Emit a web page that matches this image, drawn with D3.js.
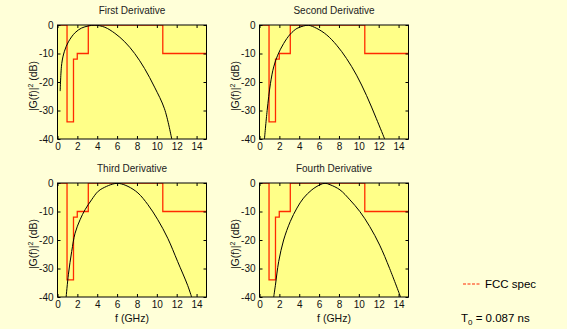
<!DOCTYPE html>
<html>
<head>
<meta charset="utf-8">
<script src="https://cdn.jsdelivr.net/npm/d3@7"></script>
<style>
  body { margin: 0; background: #ffffd8; }
  svg { display: block; font-family: "Liberation Sans", Arial, sans-serif; }
</style>
</head>
<body>
<svg id="chart"></svg>
<script>
const titles = ["First Derivative", "Second Derivative", "Third Derivative", "Fourth Derivative"];
const xTicks = [0, 2, 4, 6, 8, 10, 12, 14];
const yTicks = [0, -10, -20, -30, -40];

// FCC indoor mask, relative dB (step after each edge)
const fccFreq  = [0, 0.96, 1.61, 1.99, 3.1, 10.6, 15];
const fccLevel = [0, -34, -12, -10, 0, -10, -10];

// |G(f)|^2
const d1Freq = [0.27, 0.43, 0.7, 1.1, 1.77, 2.43, 3.1, 3.77, 4.77, 5.77, 6.77, 7.77, 8.77, 9.77, 10.77, 11.5];
const d1Db   = [-23.2, -13.5, -9.2, -5.9, -2.7, -1.06, -0.35, -0.05, -0.8, -2.9, -5.9, -10, -15.3, -21.8, -29.4, -40];
const d2Freq = [0.5, 0.77, 1.1, 1.43, 1.83, 2.43, 3.1, 3.77, 4.43, 4.93, 5.77, 6.77, 7.77, 8.77, 9.77, 10.77, 11.77, 12.6];
const d2Db   = [-40, -30, -20.6, -14.7, -10.6, -6.5, -3.2, -1.2, -0.35, -0.1, -1.2, -3.5, -7.1, -11.8, -17.6, -24.7, -32.9, -40];
const d3Freq = [0.87, 1.1, 1.43, 1.77, 2.27, 2.77, 3.43, 4.1, 4.93, 5.77, 6.27, 7.1, 8.1, 9.1, 10.1, 11.1, 12.1, 13.1, 13.5];
const d3Db   = [-40, -32, -24, -17.6, -12.9, -9.4, -5.9, -2.9, -1.2, -0.2, -0.2, -1.2, -3.5, -7.6, -12.9, -19.4, -27.6, -35.9, -40];
const d4Freq = [1.43, 1.6, 1.93, 2.43, 3.1, 3.77, 4.43, 5.27, 6.1, 6.6, 7.1, 8.1, 9.1, 10.1, 11.1, 12.1, 13.1, 14.2];
const d4Db   = [-40, -35.9, -27.6, -20, -13.5, -8.8, -5.3, -2.4, -0.6, -0.1, -0.6, -2.4, -5.9, -10, -15.3, -21.8, -30, -40];

const curves = [[d1Freq, d1Db], [d2Freq, d2Db], [d3Freq, d3Db], [d4Freq, d4Db]];

const width = 567, height = 329;
const svg = d3.select("#chart").attr("width", width).attr("height", height);

svg.append("rect").attr("width", width).attr("height", height).attr("fill", "#ffffd8");

const pw = 149, ph = 114;
const lefts = [57.5, 259.5], tops = [25, 183];

const x = d3.scaleLinear().domain([0, 15]).range([0, pw]);
const y = d3.scaleLinear().domain([-40, 0]).range([ph, 0]);

const line = d3.line().x(d => x(d[0])).y(d => y(d[1]));
const plain = d => String(d); // ascii hyphen like the original

titles.forEach((title, i) => {
  const col = i % 2, row = Math.floor(i / 2);
  const g = svg.append("g").attr("transform", `translate(${lefts[col]},${tops[row]})`);

  g.append("clipPath").attr("id", "clip" + i)
    .append("rect").attr("width", pw).attr("height", ph);

  g.append("rect").attr("width", pw).attr("height", ph).attr("fill", "#ffff88");

  // mask
  const fcc = fccFreq.map((f, j) => [f, fccLevel[j]]);
  g.append("path")
    .attr("clip-path", `url(#clip${i})`)
    .attr("d", line.curve(d3.curveStepAfter)(fcc))
    .attr("fill", "none")
    .attr("stroke", "#ff2a00")
    .attr("stroke-width", 1.3);

  // spectrum
  const [fs, dbs] = curves[i];
  g.append("path")
    .attr("clip-path", `url(#clip${i})`)
    .attr("d", line.curve(d3.curveCatmullRom)(fs.map((f, j) => [f, dbs[j]])))
    .attr("fill", "none")
    .attr("stroke", "#000")
    .attr("stroke-width", 1);

  // axes: ticks inward on all sides, like matlab
  g.append("g").attr("transform", `translate(0,${ph})`)
    .call(d3.axisBottom(x).tickValues(xTicks).tickSizeInner(-3).tickSizeOuter(0).tickPadding(4).tickFormat(plain))
    .call(a => a.select(".domain").remove());
  g.append("g")
    .call(d3.axisTop(x).tickValues(xTicks).tickSizeInner(-3).tickSizeOuter(0).tickFormat(""))
    .call(a => a.select(".domain").remove());
  g.append("g")
    .call(d3.axisLeft(y).tickValues(yTicks).tickSizeInner(-3).tickSizeOuter(0).tickPadding(4).tickFormat(plain))
    .call(a => a.select(".domain").remove());
  g.append("g").attr("transform", `translate(${pw},0)`)
    .call(d3.axisRight(y).tickValues(yTicks).tickSizeInner(-3).tickSizeOuter(0).tickFormat(""))
    .call(a => a.select(".domain").remove());
  g.selectAll(".tick text").attr("font-size", 10).attr("fill", "#111").attr("font-family", "Liberation Sans, Arial, sans-serif");

  g.append("rect").attr("width", pw).attr("height", ph)
    .attr("fill", "none").attr("stroke", "#000").attr("stroke-width", 1);

  g.append("text")
    .attr("x", pw / 2).attr("y", -11)
    .attr("text-anchor", "middle")
    .attr("font-size", 10)
    .attr("fill", "#222")
    .text(title);

  const yl = g.append("text")
    .attr("transform", `translate(-20.5,${ph / 2 + 4}) rotate(-90)`)
    .attr("text-anchor", "middle")
    .attr("font-size", 10.5)
    .attr("fill", "#111");
  yl.append("tspan").text("|G(f)|");
  yl.append("tspan").attr("font-size", 7).attr("dy", -4).text("2");
  yl.append("tspan").attr("dy", 4).text(" (dB)");

  if (row === 1) {
    g.append("text")
      .attr("x", pw / 2).attr("y", ph + 25)
      .attr("text-anchor", "middle")
      .attr("font-size", 10.5)
      .attr("fill", "#111")
      .text("f (GHz)");
  }
});

// legend
const leg = svg.append("g");
leg.append("line")
  .attr("x1", 463).attr("x2", 481).attr("y1", 284).attr("y2", 284)
  .attr("stroke", "#ff2a00").attr("stroke-width", 1.2)
  .attr("stroke-dasharray", "3,1.5");
leg.append("text").attr("x", 485).attr("y", 288).attr("font-size", 11.5).text("FCC spec");

const t0 = leg.append("text").attr("x", 461).attr("y", 322).attr("font-size", 11.5);
t0.append("tspan").text("T");
t0.append("tspan").attr("font-size", 8).attr("dy", 3).text("0");
t0.append("tspan").attr("dy", -3).text(" = 0.087 ns");
</script>
</body>
</html>
